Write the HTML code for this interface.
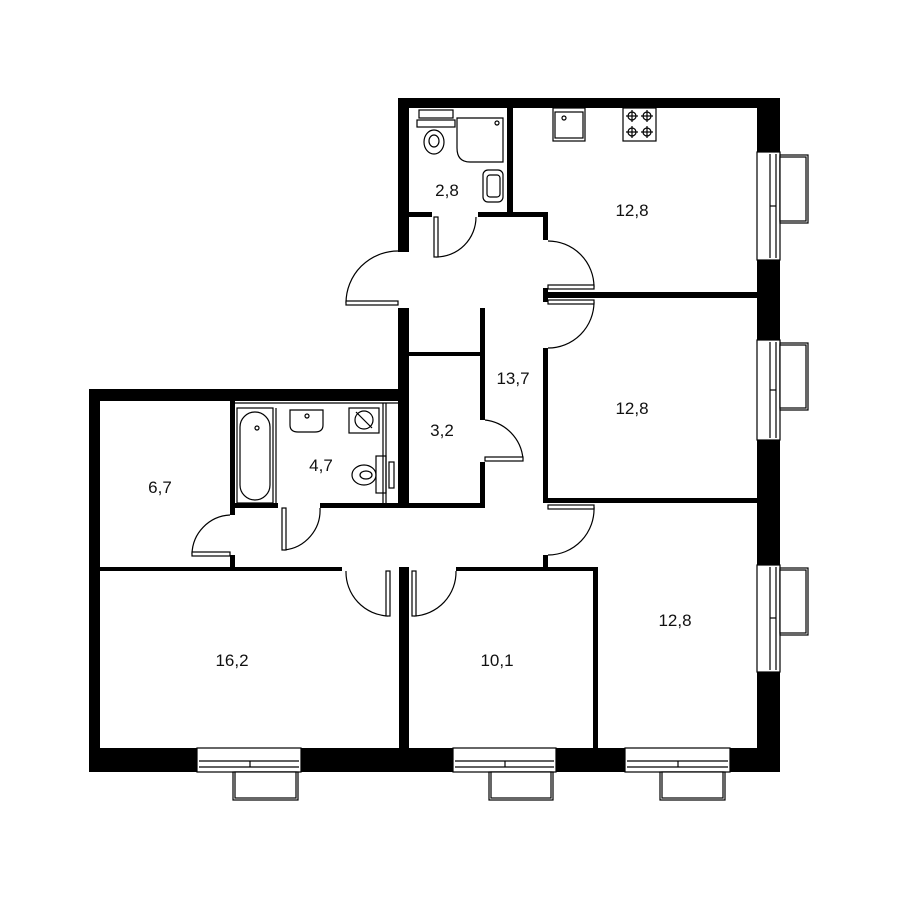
<!DOCTYPE html>
<html><head><meta charset="utf-8"><style>
html,body{margin:0;padding:0;background:#fff;}
svg{display:block}
text{font-family:"Liberation Sans",sans-serif;font-size:17px;fill:#111;text-anchor:middle}
</style></head><body>
<svg width="900" height="900" viewBox="0 0 900 900" xmlns="http://www.w3.org/2000/svg">
<rect width="900" height="900" fill="#fff"/>
<g fill="#000">
<!-- outer walls -->
<rect x="398" y="98" width="382" height="10"/>
<rect x="398" y="98" width="11" height="154"/>
<rect x="398" y="308" width="11" height="197"/>
<rect x="757" y="98" width="23" height="674"/>
<rect x="89" y="389" width="320" height="12"/>
<rect x="89" y="389" width="11" height="383"/>
<rect x="89" y="748" width="691" height="24"/>
<!-- inner walls -->
<rect x="507" y="108" width="6" height="106"/>
<rect x="409" y="212" width="23" height="5"/>
<rect x="478" y="212" width="70" height="5"/>
<rect x="543" y="212" width="5" height="28"/>
<rect x="543" y="292" width="214" height="6"/>
<rect x="543" y="288" width="5" height="14"/>
<rect x="543" y="348" width="5" height="155"/>
<rect x="543" y="498" width="214" height="5"/>
<rect x="543" y="555" width="5" height="15"/>
<rect x="456" y="567" width="142" height="4"/>
<rect x="593" y="567" width="5" height="181"/>
<rect x="480" y="308" width="5" height="112"/>
<rect x="480" y="462" width="5" height="46"/>
<rect x="409" y="352" width="71" height="4"/>
<rect x="320" y="503" width="165" height="5"/>
<rect x="235" y="503" width="43" height="5"/>
<rect x="230" y="401" width="5" height="114"/>
<rect x="230" y="555" width="5" height="16"/>
<rect x="100" y="567" width="242" height="4"/>
<rect x="399" y="567" width="10" height="181"/>
</g>
<!-- windows bottom -->
<g fill="#fff" stroke="#000" stroke-width="1.2">
<rect x="197" y="748" width="104" height="24"/>
<line x1="199" y1="761" x2="299" y2="761"/><line x1="199" y1="767" x2="299" y2="767"/><line x1="250" y1="761" x2="250" y2="767"/>
<rect x="233" y="772" width="65" height="28"/><rect x="235" y="772" width="61" height="26"/>
<rect x="453" y="748" width="103" height="24"/>
<line x1="455" y1="761" x2="554" y2="761"/><line x1="455" y1="767" x2="554" y2="767"/><line x1="505" y1="761" x2="505" y2="767"/>
<rect x="489" y="772" width="64" height="28"/><rect x="491" y="772" width="60" height="26"/>
<rect x="625" y="748" width="105" height="24"/>
<line x1="627" y1="761" x2="728" y2="761"/><line x1="627" y1="767" x2="728" y2="767"/><line x1="678" y1="761" x2="678" y2="767"/>
<rect x="660" y="772" width="65" height="28"/><rect x="662" y="772" width="61" height="26"/>
<!-- right windows -->
<rect x="757" y="152" width="23" height="108"/>
<line x1="770" y1="154" x2="770" y2="258"/><line x1="776" y1="154" x2="776" y2="258"/><line x1="770" y1="206" x2="776" y2="206"/>
<rect x="780" y="155" width="28" height="68"/><rect x="780" y="157" width="26" height="64"/>
<rect x="757" y="340" width="23" height="100"/>
<line x1="770" y1="342" x2="770" y2="438"/><line x1="776" y1="342" x2="776" y2="438"/><line x1="770" y1="390" x2="776" y2="390"/>
<rect x="780" y="343" width="28" height="67"/><rect x="780" y="345" width="26" height="63"/>
<rect x="757" y="565" width="23" height="107"/>
<line x1="770" y1="567" x2="770" y2="670"/><line x1="776" y1="567" x2="776" y2="670"/><line x1="770" y1="618" x2="776" y2="618"/>
<rect x="780" y="568" width="28" height="67"/><rect x="780" y="570" width="26" height="63"/>
</g>
<!-- doors -->
<g fill="none" stroke="#000" stroke-width="1.2">
<path d="M346 303 A52 52 0 0 1 398 251"/><rect x="346" y="301" width="52" height="4" fill="#fff"/>
<path d="M436 257 A40 40 0 0 0 476 217"/><rect x="434" y="217" width="4" height="40" fill="#fff"/>
<path d="M594 287 A46 46 0 0 0 548 241"/><rect x="548" y="285" width="46" height="4" fill="#fff"/>
<path d="M594 302 A46 46 0 0 1 548 348"/><rect x="548" y="300" width="46" height="4" fill="#fff"/>
<path d="M523 459 A43 43 0 0 0 485 420"/><rect x="485" y="457" width="38" height="4" fill="#fff"/>
<path d="M284 550 A40 40 0 0 0 320 508"/><rect x="282" y="508" width="4" height="42" fill="#fff"/>
<path d="M192 554 A40 40 0 0 1 230 515"/><rect x="192" y="552" width="38" height="4" fill="#fff"/>
<path d="M594 507 A46 46 0 0 1 548 555"/><rect x="548" y="505" width="46" height="4" fill="#fff"/>
<path d="M346 571 A44 44 0 0 0 388 616"/><rect x="386" y="571" width="4" height="45" fill="#fff"/>
<path d="M414 616 A44 44 0 0 0 456 571"/><rect x="412" y="571" width="4" height="45" fill="#fff"/>
</g>
<!-- fixtures -->
<g fill="none" stroke="#000" stroke-width="1.2">
<rect x="419" y="110" width="34" height="8"/><rect x="417" y="120" width="38" height="7"/>
<ellipse cx="434" cy="142" rx="10" ry="12"/><ellipse cx="434" cy="141" rx="5" ry="6"/>
<path d="M457 118 H503 V162 H470 Q457 162 457 148 Z"/>
<circle cx="497" cy="123" r="2"/>
<rect x="483" y="170" width="20" height="32" rx="5"/><rect x="487" y="175" width="13" height="22" rx="3"/>
<rect x="553" y="108" width="32" height="33"/><rect x="555" y="112" width="28" height="26"/><circle cx="564" cy="118" r="2"/>
<rect x="623" y="108" width="33" height="33"/>
<circle cx="632" cy="116" r="4"/><circle cx="647" cy="116" r="4"/><circle cx="632" cy="132" r="4"/><circle cx="647" cy="132" r="4"/>
<line x1="626" y1="116" x2="638" y2="116"/><line x1="641" y1="116" x2="653" y2="116"/><line x1="626" y1="132" x2="638" y2="132"/><line x1="641" y1="132" x2="653" y2="132"/>
<line x1="632" y1="110" x2="632" y2="122"/><line x1="647" y1="110" x2="647" y2="122"/><line x1="632" y1="126" x2="632" y2="138"/><line x1="647" y1="126" x2="647" y2="138"/>
<rect x="237" y="408" width="36" height="95"/><rect x="240" y="412" width="30" height="88" rx="15"/><circle cx="257" cy="428" r="2"/>
<line x1="276" y1="408" x2="276" y2="503"/>
<path d="M290 410 H323 V425 Q323 432 315 432 H298 Q290 432 290 425 Z"/><circle cx="307" cy="416" r="2"/>
<rect x="349" y="408" width="30" height="25"/><circle cx="364" cy="420" r="9"/><line x1="356" y1="412" x2="372" y2="428"/>
<rect x="376" y="456" width="10" height="37"/><ellipse cx="364" cy="475" rx="12" ry="10"/><ellipse cx="366" cy="475" rx="6" ry="4"/>
<rect x="389" y="462" width="5" height="26"/>
<line x1="383" y1="403" x2="383" y2="503"/><line x1="386" y1="403" x2="386" y2="503"/>
<line x1="235" y1="403" x2="398" y2="403"/>
</g>
<text x="447" y="196">2,8</text>
<text x="632" y="216">12,8</text>
<text x="513" y="384">13,7</text>
<text x="632" y="414">12,8</text>
<text x="442" y="436">3,2</text>
<text x="321" y="471">4,7</text>
<text x="160" y="493">6,7</text>
<text x="232" y="666">16,2</text>
<text x="497" y="666">10,1</text>
<text x="675" y="626">12,8</text>
</svg>
</body></html>
